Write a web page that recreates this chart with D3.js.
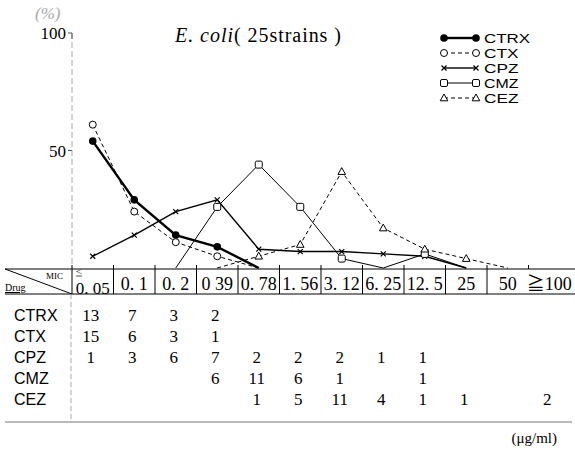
<!DOCTYPE html>
<html>
<head>
<meta charset="utf-8">
<script src="https://cdn.jsdelivr.net/npm/d3@7/dist/d3.min.js"></script>
<style>
  body { margin: 0; background: #fff; }
  svg { display: block; }
  .serif { font-family: "Liberation Serif", "Noto Sans CJK JP", serif; }
  .sans { font-family: "Liberation Sans", "DejaVu Sans", sans-serif; }
</style>
</head>
<body>
<svg id="chart" width="575" height="451"></svg>
<script>
// MIC classes (µg/ml), as printed in the header row
var mics = ["0. 05", "0. 1", "0. 2", "0  39", "0. 78", "1. 56", "3. 12", "6. 25", "12. 5", "25", "50", "\u2267100"];
var drugs = ["CTRX", "CTX", "CPZ", "CMZ", "CEZ"];
var yTicks = [50, 100];

// number of strains per MIC (table), null = blank
var ctrxCount = [13, 7, 3, 2, null, null, null, null, null, null, null, null];
var ctxCount  = [15, 6, 3, 1, null, null, null, null, null, null, null, null];
var cpzCount  = [1, 3, 6, 7, 2, 2, 2, 1, 1, null, null, null];
var cmzCount  = [null, null, null, 6, 11, 6, 1, null, 1, null, null, null];
var cezCount  = [null, null, null, null, 1, 5, 11, 4, 1, 1, null, 2];

// plotted % of strains, null = no point
var ctrxPct = [54, 29, 14, 9, 0, null, null, null, null, null, null, null];
var ctxPct  = [61, 24, 11, 5, 0, null, null, null, null, null, null, null];
var cpzPct  = [5, 14, 24, 29, 8, 7, 7, 6, 5, 0, null, null];
var cmzPct  = [null, null, 0, 26, 44, 26, 4, 0, 6, 0, null, null];
var cezPct  = [null, null, null, 0, 5, 10, 41, 17, 8, 4, 0, null];

var svg = d3.select("#chart");

var x = d3.scaleBand().domain(mics).range([72, 570]).paddingInner(0).paddingOuter(0);
var y = d3.scaleLinear().domain([0, 100]).range([268, 33]);

var series = [
	{name: "CTRX", pct: ctrxPct, count: ctrxCount, marker: "dot",    dash: null,  width: 2.4},
	{name: "CTX",  pct: ctxPct,  count: ctxCount,  marker: "circle", dash: "4,3", width: 1},
	{name: "CPZ",  pct: cpzPct,  count: cpzCount,  marker: "cross",  dash: null,  width: 1.4},
	{name: "CMZ",  pct: cmzPct,  count: cmzCount,  marker: "square", dash: null,  width: 1},
	{name: "CEZ",  pct: cezPct,  count: cezCount,  marker: "tri",    dash: "4,3", width: 1}
];

function drawMarker(g, type, cx, cy) {
	if (type == "dot") {
		g.append("circle").attr("cx", cx).attr("cy", cy).attr("r", 3.8).attr("fill", "#000");
	} else if (type == "circle") {
		g.append("circle").attr("cx", cx).attr("cy", cy).attr("r", 3.5)
			.attr("fill", "#fff").attr("stroke", "#000").attr("stroke-width", 1);
	} else if (type == "cross") {
		g.append("path").attr("d", "M" + (cx - 2.5) + "," + (cy - 2.5) + "L" + (cx + 2.5) + "," + (cy + 2.5) +
				"M" + (cx - 2.5) + "," + (cy + 2.5) + "L" + (cx + 2.5) + "," + (cy - 2.5))
			.attr("stroke", "#000").attr("stroke-width", 1.2);
	} else if (type == "square") {
		g.append("rect").attr("x", cx - 3.5).attr("y", cy - 3.5).attr("width", 7).attr("height", 7)
			.attr("rx", 1.5).attr("fill", "#fff").attr("stroke", "#000").attr("stroke-width", 1);
	} else if (type == "tri") {
		g.append("path").attr("d", "M" + cx + "," + (cy - 4) + "L" + (cx + 3.8) + "," + (cy + 2.8) + "L" + (cx - 3.8) + "," + (cy + 2.8) + "Z")
			.attr("fill", "#fff").attr("stroke", "#000").attr("stroke-width", 1);
	}
}

// y axis: faint dashed line with ticks
svg.append("line").attr("x1", 72).attr("x2", 72).attr("y1", y(100)).attr("y2", y(0))
	.attr("stroke", "#aaa").attr("stroke-width", 1).attr("stroke-dasharray", "6,3");
svg.append("path").attr("d", "M68," + y(100) + "H72V" + (y(100) + 6))
	.attr("fill", "none").attr("stroke", "#555").attr("stroke-width", 1);
svg.append("line").attr("x1", 68).attr("x2", 72).attr("y1", y(50)).attr("y2", y(50))
	.attr("stroke", "#555").attr("stroke-width", 1);
svg.selectAll("text.ytick").data(yTicks).enter().append("text")
	.attr("class", "ytick serif")
	.attr("x", 66).attr("y", function(d){ return y(d) + 6; })
	.attr("text-anchor", "end").attr("font-size", 17)
	.text(function(d){ return d; });
svg.append("text").attr("class", "serif").attr("x", 35).attr("y", 19)
	.attr("font-size", 17).attr("font-style", "italic").attr("fill", "#aaa").text("(%)");

// title
var title = svg.append("text").attr("class", "serif").attr("x", 175).attr("y", 42)
	.attr("font-size", 20).attr("textLength", 166).attr("lengthAdjust", "spacing");
title.append("tspan").attr("font-style", "italic").text("E. coli");
title.append("tspan").text("( 25strains )");

// curves
var line = d3.line()
	.defined(function(d){ return d.v != null; })
	.x(function(d){ return x(d.m) + x.bandwidth() / 2; })
	.y(function(d){ return y(d.v); });

var curves = svg.append("g");
series.forEach(function(s){
	var pts = mics.map(function(m, i){ return {m: m, v: s.pct[i]}; });
	curves.append("path").datum(pts.filter(function(d){ return d.v != null; }))
		.attr("d", line)
		.attr("fill", "none").attr("stroke", "#000")
		.attr("stroke-width", s.width)
		.attr("stroke-dasharray", s.dash);
});
series.forEach(function(s){
	var g = curves.append("g");
	mics.forEach(function(m, i){
		if (s.pct[i] != null && s.pct[i] > 0) drawMarker(g, s.marker, x(m) + x.bandwidth() / 2, y(s.pct[i]));
	});
});

// legend
var legend = svg.append("g");
series.forEach(function(s, i){
	var ly = 38 + i * 15;
	legend.append("line").attr("x1", 444).attr("x2", 476).attr("y1", ly).attr("y2", ly)
		.attr("stroke", "#000").attr("stroke-width", s.width).attr("stroke-dasharray", s.dash);
	drawMarker(legend, s.marker, 444, ly);
	drawMarker(legend, s.marker, 476, ly);
	legend.append("text").attr("class", "sans").attr("x", 484).attr("y", ly + 5)
		.attr("font-size", 13).attr("textLength", s.name.length * 11.5)
		.attr("lengthAdjust", "spacingAndGlyphs").text(s.name);
});

// header row
var headTop = 269, headBot = 294;
svg.append("line").attr("x1", 5).attr("x2", 575).attr("y1", headTop).attr("y2", headTop)
	.attr("stroke", "#000").attr("stroke-width", 1.2);
svg.append("line").attr("x1", 5).attr("x2", 575).attr("y1", headBot).attr("y2", headBot)
	.attr("stroke", "#000").attr("stroke-width", 1);
svg.append("line").attr("x1", 5).attr("x2", 72).attr("y1", headTop).attr("y2", headBot)
	.attr("stroke", "#000").attr("stroke-width", 1);
svg.selectAll("line.cell").data(mics.slice(0, 11)).enter().append("line")
	.attr("class", "cell")
	.attr("x1", function(d){ return x(d); }).attr("x2", function(d){ return x(d); })
	.attr("y1", headTop - 4).attr("y2", headBot)
	.attr("stroke", "#000").attr("stroke-width", 1);
svg.append("line").attr("x1", x(mics[11])).attr("x2", x(mics[11]))
	.attr("y1", headTop - 4).attr("y2", headTop).attr("stroke", "#000");
svg.append("text").attr("class", "serif").attr("x", 46).attr("y", 279)
	.attr("font-size", 9).text("MIC");
svg.append("text").attr("class", "serif").attr("x", 5).attr("y", 291)
	.attr("font-size", 10).attr("text-decoration", "underline").text("Drug");
svg.append("text").attr("class", "serif").attr("x", x(mics[0]) + 3).attr("y", 275.5)
	.attr("font-size", 8).attr("fill", "#666").text("\u2266");
svg.selectAll("text.mic").data(mics).enter().append("text")
	.attr("class", "mic serif")
	.attr("x", function(d){ return x(d) + x.bandwidth() / 2; })
	.attr("y", function(d, i){ return i == 0 ? 293.5 : 290; })
	.attr("text-anchor", "middle").attr("font-size", function(d, i){ return i == 0 ? 17 : 18; })
	.text(function(d){ return d; });

// table
svg.append("line").attr("x1", 71).attr("x2", 71).attr("y1", headBot).attr("y2", 422)
	.attr("stroke", "#aaa").attr("stroke-width", 1).attr("stroke-dasharray", "5,3");
svg.append("line").attr("x1", 5).attr("x2", 572).attr("y1", 422).attr("y2", 422)
	.attr("stroke", "#777").attr("stroke-width", 1.2);
var rowY = d3.scalePoint().domain(drugs).range([321, 405]);
series.forEach(function(s){
	svg.append("text").attr("class", "sans").attr("x", 14).attr("y", rowY(s.name))
		.attr("font-size", 16).text(s.name);
	mics.forEach(function(m, i){
		if (s.count[i] == null) return;
		svg.append("text").attr("class", "serif")
			.attr("x", x(m) + x.bandwidth() / 2 - 2).attr("y", rowY(s.name))
			.attr("text-anchor", "middle").attr("font-size", 17)
			.text(s.count[i]);
	});
});
svg.append("text").attr("class", "serif").attr("x", 557).attr("y", 443)
	.attr("text-anchor", "end").attr("font-size", 15).text("(\u03bcg/ml)");
</script>
</body>
</html>
